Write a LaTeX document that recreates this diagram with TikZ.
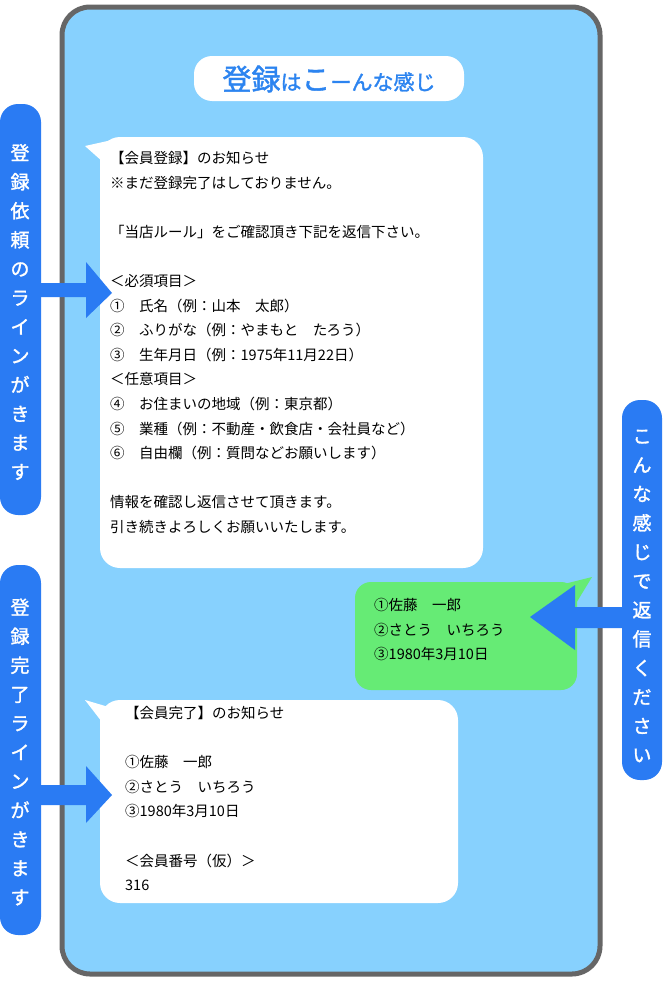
\documentclass[tikz,border=0pt]{standalone}
\usepackage{fontspec}
\setmainfont{Noto Sans CJK JP}
\newfontfamily\jpb{Noto Sans CJK JP}[FakeBold=1.5]
\definecolor{bgblue}{HTML}{87D1FE}
\definecolor{pill}{HTML}{2A7BF3}
\definecolor{frame}{HTML}{666666}
\definecolor{greenb}{HTML}{66EB75}
\definecolor{ttl}{HTML}{2C84F0}
\tikzset{
 bubble/.style={fill=white,draw=none},
 pillbox/.style={fill=pill,draw=none,rounded corners=18pt},
 vtext/.style={text=white,font=\jpb\fontsize{19}{29}\selectfont,align=center,inner sep=0},
 body/.style={anchor=north west,align=left,inner sep=0,font=\fontsize{14.5}{24.6}\selectfont},
}
\begin{document}
\begin{tikzpicture}[x=1pt,y=-1pt]
\useasboundingbox (0,0) rectangle (662,996);
\fill[white] (0,0) rectangle (662,996);
\draw[draw=frame,line width=5pt,fill=bgblue,rounded corners=28pt] (62,7) rectangle (600,974);
% title
\fill[white,rounded corners=18pt] (194,56) rectangle (464,101);
\node (title) at (329,79) {\jpb\color{ttl}\fontsize{29}{30}\selectfont 登録\fontsize{21}{30}\selectfont は\fontsize{29}{30}\selectfont こ\fontsize{21}{30}\selectfont ーんな感じ};
% pills
\fill[pillbox] (0,104) rectangle (41,515);
\node[vtext] (p1) at (20,312) {登\\録\\依\\頼\\の\\ラ\\イ\\ン\\が\\き\\ま\\す};
\fill[pillbox] (0,565) rectangle (41,935);
\node[vtext] (p2) at (20,752) {登\\録\\完\\了\\ラ\\イ\\ン\\が\\き\\ま\\す};
\fill[pillbox] (622,400) rectangle (662,780);
\node[vtext] (p3) at (642,596) {こ\\ん\\な\\感\\じ\\で\\返\\信\\く\\だ\\さ\\い};
% bubbles
\fill[bubble,rounded corners=20pt] (100,137) rectangle (483,568);
\fill[bubble] (85,146) -- (112,140) -- (112,170) -- cycle;
\node[body] (b1) at (110,151) {【会員登録】のお知らせ\\※まだ登録完了はしておりません。\\\mbox{}\\「当店ルール」をご確認頂き下記を返信下さい。\\\mbox{}\\＜必須項目＞\\①\quad 氏名（例：山本\quad 太郎）\\②\quad ふりがな（例：やまもと\quad たろう）\\③\quad 生年月日（例：1975年11月22日）\\＜任意項目＞\\④\quad お住まいの地域（例：東京都）\\⑤\quad 業種（例：不動産・飲食店・会社員など）\\⑥\quad 自由欄（例：質問などお願いします）\\\mbox{}\\情報を確認し返信させて頂きます。\\引き続きよろしくお願いいたします。};
\fill[greenb,rounded corners=16pt] (355,582) rectangle (577,690);
\fill[greenb] (592,577) -- (560,585) -- (575,605) -- cycle;
\node[body] (g) at (374,598) {①佐藤\quad 一郎\\②さとう\quad いちろう\\③1980年3月10日};
\fill[bubble,rounded corners=20pt] (100,700) rectangle (458,903);
\fill[bubble] (85,700) -- (112,708) -- (112,735) -- cycle;
\node[body] (b3) at (125,706) {【会員完了】のお知らせ\\\mbox{}\\①佐藤\quad 一郎\\②さとう\quad いちろう\\③1980年3月10日\\\mbox{}\\＜会員番号（仮）＞\\316};
% arrows
\coordinate (a1) at (112,293);
\fill[pill] (p1.east|-a1) ++(10,-10) -- (86,283) -- (86,262) -- (a1) -- (86,318) -- (86,297) -- (30,297) -- cycle;
\coordinate (a2) at (112,795);
\fill[pill] (30,785) -- (86,785) -- (86,766) -- (a2) -- (86,823) -- (86,805) -- (30,805) -- cycle;
\coordinate (a3) at (530,617);
\fill[pill] (630,607) -- (575,607) -- (575,585) -- (a3) -- (575,650) -- (575,628) -- (630,628) -- cycle;
\end{tikzpicture}
\end{document}
